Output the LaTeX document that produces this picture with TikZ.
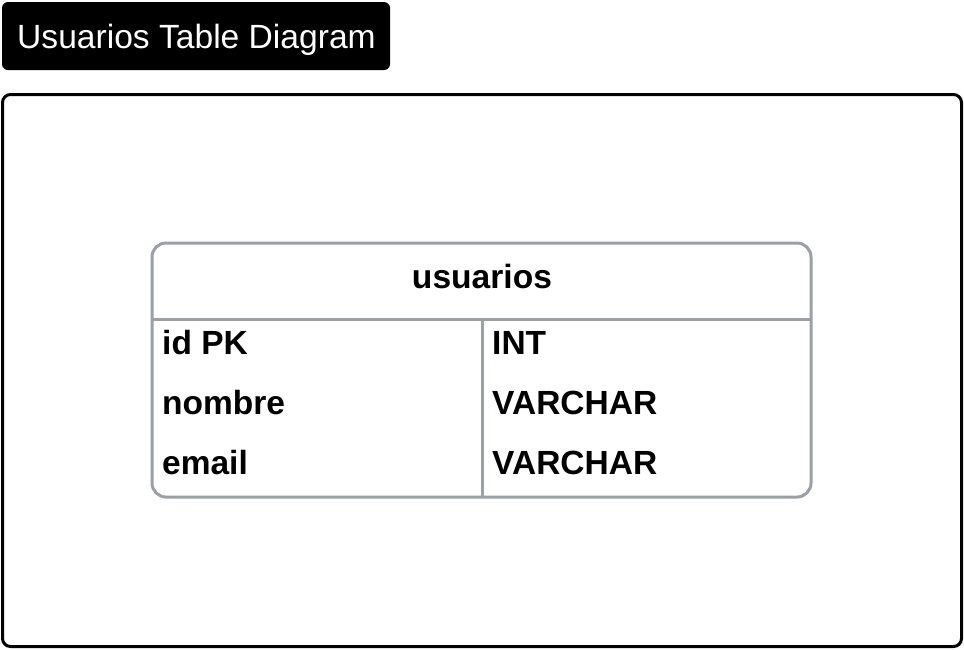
\documentclass[tikz,border=0pt]{standalone}
\usepackage{fontspec}
\setmainfont{Liberation Sans}
\definecolor{tblgray}{HTML}{9AA0A6}
\begin{document}
\begin{tikzpicture}[x=1pt,y=-1pt,
  titlebox/.style={rectangle,fill=black,text=white,rounded corners=6pt,minimum width=388pt,minimum height=68pt,inner sep=0pt},
  framebox/.style={rectangle,draw=black,line width=3pt,rounded corners=8pt,minimum width=959pt,minimum height=552pt,inner sep=0pt},
  tablebox/.style={rectangle,draw=tblgray,line width=3pt,rounded corners=14pt,minimum width=659pt,minimum height=254pt,inner sep=0pt},
  sepline/.style={draw=tblgray,line width=3pt},
  cell/.style={anchor=base west,inner sep=0pt,font=\fontsize{33.5}{38}\bfseries\selectfont},
  headtxt/.style={anchor=base,inner sep=0pt,font=\fontsize{33.6}{38}\bfseries\selectfont}]
\useasboundingbox (0,0) rectangle (964,649);
\node[titlebox] (title) at (196,36) {};
\node[anchor=base,inner sep=0pt,text=white,font=\fontsize{33.6}{38}\selectfont] (titletxt) at (196.5,48) {Usuarios Table Diagram};
\node[framebox] (frame) at (482,370.5) {};
\node[tablebox] (tbl) at (481.5,370) {};
\coordinate (hl) at (152,319);
\coordinate (hr) at (811,319);
\coordinate (vt) at (482,319);
\coordinate (vb) at (482,497);
\draw[sepline] (hl) -- (hr);
\draw[sepline] (vt) -- (vb);
\node[headtxt] (head) at (482,288) {usuarios};
\node[cell] (c1) at (162,354) {id PK};
\node[cell] (c2) at (162,414) {nombre};
\node[cell] (c3) at (162,474) {email};
\node[cell] (t1) at (492,354) {INT};
\node[cell] (t2) at (492,414) {VARCHAR};
\node[cell] (t3) at (492,474) {VARCHAR};
\end{tikzpicture}
\end{document}
